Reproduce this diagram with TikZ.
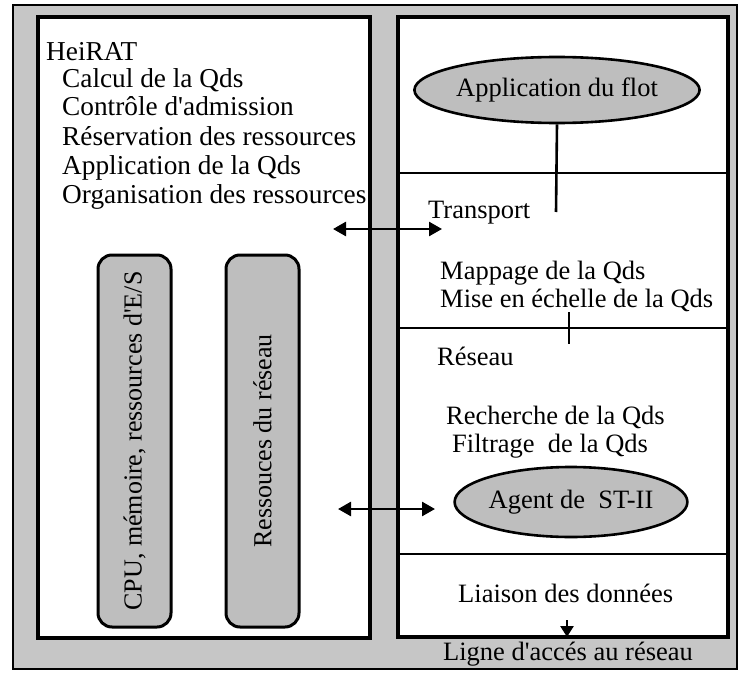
\documentclass[tikz,border=0pt]{standalone}
\usepackage{fontspec}
\setmainfont{Liberation Serif}
\usetikzlibrary{arrows.meta,shapes.geometric}
\definecolor{framegray}{HTML}{C6C6C6}
\definecolor{boxgray}{HTML}{BEBEBE}
% straight apostrophe, taken as a glyph so no quote mapping applies
\newcommand\sq{{\XeTeXglyph\XeTeXglyphindex "quotesingle"\relax}}
\begin{document}
\begin{tikzpicture}[x=1pt,y=-1pt,
  panel/.style={draw=black,fill=white,line width=3.5pt},
  divider/.style={draw=black,line width=2.6pt},
  link/.style={draw=black,line width=2.6pt},
  txt/.style={anchor=base west,inner sep=0pt,font=\fontsize{26.5}{28}\selectfont},
  ltxt/.style={txt,font=\fontsize{27.3}{29}\selectfont},
  oval/.style={ellipse,draw=black,fill=boxgray,line width=2.6pt,inner sep=0pt,
    font=\fontsize{26.5}{28}\selectfont},
  resbox/.style={draw=black,fill=boxgray,line width=3pt,rounded corners=14pt,
    minimum width=73pt,minimum height=372pt,inner sep=0pt},
  duplex/.style={line width=2.6pt,{Triangle[length=13pt,width=14pt]}-{Triangle[length=13pt,width=14pt]}},
  downarrow/.style={line width=2.6pt,-{Triangle[length=11pt,width=13pt]}}]
\useasboundingbox (0,0) rectangle (741,674);
\fill[white] (0,0) rectangle (741,674);
% grey frame holding both halves
\draw[fill=framegray,line width=1.2pt] (13,5) rectangle (737,669);
% left half: resource manager
\draw[panel] (38,17) rectangle (370,638);
% right half: protocol stack
\draw[panel] (398,17) rectangle (728,637);

% layer boundaries of the stack
\coordinate (d1w) at (398,173); \coordinate (d1e) at (728,173);
\coordinate (d2w) at (398,328); \coordinate (d2e) at (728,328);
\coordinate (d3w) at (398,554); \coordinate (d3e) at (728,554);
\draw[divider] (d1w) -- (d1e);
\draw[divider] (d2w) -- (d2e);
\draw[divider] (d3w) -- (d3e);

% HeiRAT functions
\node[ltxt] (heirat) at (46,61) {HeiRAT};
\node[ltxt] (f1) at (62,88) {Calcul de la Qds};
\node[ltxt] (f2) at (62,116) {Contrôle d\sq admission};
\node[ltxt] (f3) at (62,145) {Réservation des ressources};
\node[ltxt] (f4) at (62,174) {Application de la Qds};
\node[ltxt] (f5) at (62,203) {Organisation des ressources};

% managed resources
\node[resbox] (cpu) at (134.5,441) {};
\node[rotate=90,font=\fontsize{26}{28}\selectfont] (cpulbl) at (cpu.center) {CPU, mémoire, ressources d\sq E/S};
\node[resbox] (net) at (262.5,441) {};
\node[rotate=90,font=\fontsize{26}{28}\selectfont] (netlbl) at (net.center) {Ressouces du réseau};

% protocol stack contents
\node[oval,minimum width=204pt,minimum height=66pt] (flot) at (557,90) {Application du flot};
\node[txt] (transport) at (428,218) {Transport};
\node[txt] (map) at (440,279) {Mappage de la Qds};
\node[txt] (scale) at (440,307) {Mise en échelle de la Qds};
\node[txt] (reseau) at (437,365) {Réseau};
\node[txt] (search) at (446,424) {Recherche de la Qds};
\node[txt] (filter) at (452,452) {Filtrage\ \ de la Qds};
\node[oval,minimum width=218pt,minimum height=70pt] (agent) at (571,502) {Agent de\ \ ST-II};
\node[txt] (liaison) at (458,602) {Liaison des données};
\node[anchor=base,inner sep=0pt,font=\fontsize{26.5}{28}\selectfont] (ligne) at (568,660) {Ligne d\sq accés au réseau};

% connectors
\coordinate (flotend) at (556,212);
\draw[link] (flot.south) -- (flotend);
\coordinate (tickA) at (569,312);
\coordinate (tickB) at (569,344);
\draw[link] (tickA) -- (tickB);
\coordinate (dtop) at (567,620);
\coordinate (dbot) at (567,637);
\draw[downarrow] (dtop) -- (dbot);

% exchanges between the manager and the stack
\coordinate (a1l) at (333,229); \coordinate (a1r) at (442,229);
\draw[duplex] (a1l) -- (a1r);
\coordinate (a2l) at (338,509); \coordinate (a2r) at (435,509);
\draw[duplex] (a2l) -- (a2r);
\end{tikzpicture}
\end{document}
